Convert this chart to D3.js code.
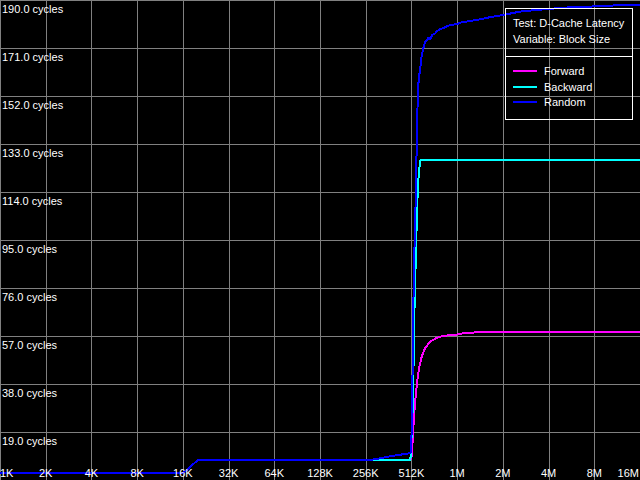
<!DOCTYPE html>
<html><head><meta charset="utf-8">
<script src="https://cdn.jsdelivr.net/npm/d3@7"></script>
<style>html,body{margin:0;padding:0;background:#000;overflow:hidden}svg{display:block}</style>
</head><body><svg id="c" width="640" height="480"></svg>
<script>
// ---- data ----
const sizeTicksKB = [1, 2, 4, 8, 16, 32, 64, 128, 256, 512, 1024, 2048, 4096, 8192, 16384];
const sizeLabels = ["1K", "2K", "4K", "8K", "16K", "32K", "64K", "128K", "256K", "512K", "1M", "2M", "4M", "8M", "16M"];
const cycleTicks = [19, 38, 57, 76, 95, 114, 133, 152, 171, 190];
const seriesNames = ["Forward", "Backward", "Random"];
const infoLines = ["Test: D-Cache Latency", "Variable: Block Size"];

const forwardKB = [1, 16, 20, 256, 480, 501, 512, 522, 532, 546, 560, 577, 598, 629, 678, 751, 830, 943, 1069, 1119, 1405, 16384];
const forwardCycles = [2.6, 2.6, 7.8, 7.8, 7.8, 7.8, 8.5, 15.8, 25.1, 33.0, 39.6, 44.8, 48.8, 52.1, 54.7, 56.3, 57.0, 57.4, 57.7, 58.1, 58.5, 58.5];

const backwardKB = [1, 16, 20, 256, 500, 506, 519, 527, 532, 540, 549, 557, 566, 577, 588, 16384];
const backwardCycles = [2.6, 2.6, 7.8, 7.8, 7.8, 9.1, 23.7, 39.6, 59.4, 75.2, 91.0, 105.7, 117.2, 123.5, 126.7, 126.7];

const randomKB = [1, 16, 20, 256, 268, 325, 380, 431, 490, 505, 512, 519, 527, 532, 543, 549, 555, 560, 568, 577, 589, 599, 609, 630, 650, 660, 683, 700, 736, 747, 785, 851, 919, 1017, 1069, 1377, 1685, 2063, 2656, 3782, 5668, 8497, 11513, 16384];
const randomCycles = [2.6, 2.6, 7.8, 7.8, 7.8, 8.7, 9.5, 10.0, 10.5, 10.7, 15.8, 35.6, 67.3, 85.1, 102.9, 120.7, 131.8, 145.3, 156.4, 160.3, 164.3, 168.2, 170.2, 173.5, 174.0, 175.1, 174.5, 176.1, 176.8, 177.5, 178.4, 179.2, 180.1, 180.4, 181.0, 182.1, 183.2, 184.1, 185.4, 186.3, 187.1, 187.5, 187.9, 188.0];

// ---- chart ----
const W = 640, H = 480;
const colors = ["#ff00ff", "#00ffff", "#0000ff"];
const svg = d3.select("#c");
svg.append("rect").attr("width", W).attr("height", H).attr("fill", "#000");

const x = d3.scaleLog().base(2).domain([1, 16384]).range([0, W]);
const y = d3.scaleLinear().domain([0, 190]).range([H, 0]);

const gridColor = "#808080";
const gx = svg.append("g").attr("transform", `translate(0,${H})`)
  .call(d3.axisBottom(x).tickValues(sizeTicksKB).tickSize(-H).tickFormat(""));
gx.select(".domain").remove();
gx.selectAll(".tick line").attr("stroke", gridColor).attr("shape-rendering", "crispEdges");
const gy = svg.append("g")
  .call(d3.axisLeft(y).tickValues(cycleTicks).tickSize(-W).tickFormat(""));
gy.select(".domain").remove();
gy.selectAll(".tick line").attr("stroke", gridColor).attr("shape-rendering", "crispEdges");

const series = [
  forwardKB.map((k, i) => [k, forwardCycles[i]]),
  backwardKB.map((k, i) => [k, backwardCycles[i]]),
  randomKB.map((k, i) => [k, randomCycles[i]])
];
const line = d3.line().x(d => x(d[0])).y(d => y(d[1]));
series.forEach((s, i) => {
  svg.append("path").datum(s).attr("d", line)
    .attr("fill", "none").attr("stroke", colors[i]).attr("stroke-width", 2)
    .attr("stroke-linejoin", "miter").attr("shape-rendering", "crispEdges");
});

const font = "'Liberation Sans', Arial, sans-serif";
svg.append("g").selectAll("text").data(cycleTicks).join("text")
  .attr("x", 2).attr("y", d => y(d) + 13)
  .attr("fill", "#fff").attr("font-family", font).attr("font-size", 11)
  .text(d => d.toFixed(1) + " cycles");

const xl = svg.append("g").selectAll("text").data(sizeTicksKB).join("text")
  .attr("y", 477)
  .attr("fill", "#fff").attr("font-family", font).attr("font-size", 11)
  .text((d, i) => sizeLabels[i]);
xl.each(function(d) {
  const w = this.getComputedTextLength();
  let cx = x(d) - w / 2;
  cx = Math.max(0, Math.min(W - w - 1, cx));
  d3.select(this).attr("x", cx);
});

const lg = svg.append("g");
lg.append("rect").attr("x", 505.5).attr("y", 8.5).attr("width", 127).attr("height", 111)
  .attr("fill", "none").attr("stroke", "#fff").attr("stroke-width", 1).attr("shape-rendering", "crispEdges");
lg.append("line").attr("x1", 505.5).attr("x2", 632.5).attr("y1", 56.5).attr("y2", 56.5)
  .attr("stroke", "#fff").attr("shape-rendering", "crispEdges");
infoLines.forEach((t, i) => {
  lg.append("text").attr("x", 513).attr("y", 27 + i * 16)
    .attr("fill", "#fff").attr("font-family", font).attr("font-size", 11).text(t);
});
seriesNames.forEach((n, i) => {
  const ly = 71 + i * 15.7;
  lg.append("line").attr("x1", 513).attr("x2", 537).attr("y1", ly).attr("y2", ly)
    .attr("stroke", colors[i]).attr("stroke-width", 2).attr("shape-rendering", "crispEdges");
  lg.append("text").attr("x", 544).attr("y", ly + 4)
    .attr("fill", "#fff").attr("font-family", font).attr("font-size", 11).text(n);
});
</script>
</body></html>
